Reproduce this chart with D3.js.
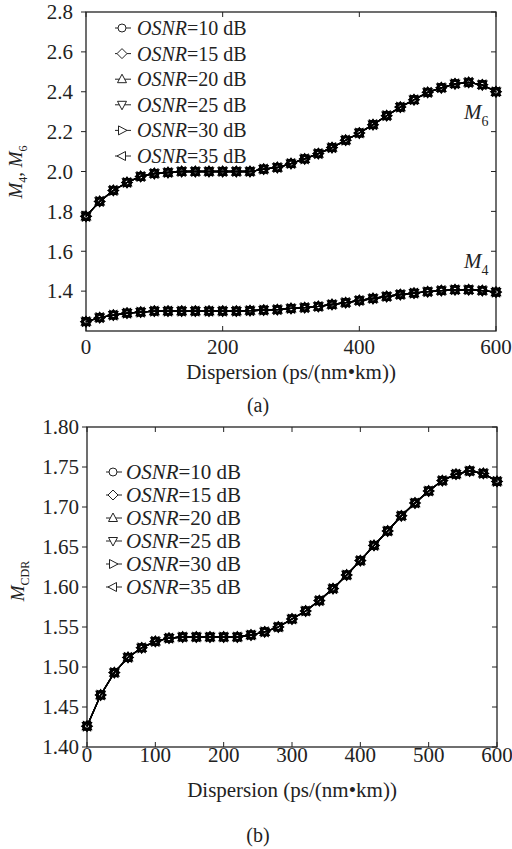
<!DOCTYPE html>
<html>
<head>
<meta charset="utf-8">
<script src="https://cdn.jsdelivr.net/npm/d3@7"></script>
<style>
  body { margin: 0; background: #fff; }
  svg { display: block; font-family: "Liberation Serif", "Times New Roman", serif; }
</style>
</head>
<body>
<div id="chart"></div>
<script>
// data
const osnrLevels = [10, 15, 20, 25, 30, 35];
const dispersion = [0, 20, 40, 60, 80, 100, 120, 140, 160, 180, 200, 220, 240, 260, 280, 300,
  320, 340, 360, 380, 400, 420, 440, 460, 480, 500, 520, 540, 560, 580, 600];
const m6Values = [1.775, 1.85, 1.905, 1.945, 1.975, 1.99, 1.995, 2.0, 2.0, 2.0, 2.0, 2.0, 2.0,
  2.012, 2.02, 2.04, 2.063, 2.09, 2.12, 2.157, 2.193, 2.235, 2.28, 2.323, 2.36, 2.397, 2.42,
  2.44, 2.447, 2.435, 2.40];
const m4Values = [1.247, 1.267, 1.28, 1.29, 1.295, 1.30, 1.30, 1.30, 1.30, 1.30, 1.30, 1.30,
  1.302, 1.305, 1.307, 1.313, 1.317, 1.323, 1.333, 1.342, 1.353, 1.363, 1.373, 1.383, 1.39,
  1.397, 1.403, 1.407, 1.407, 1.403, 1.395];
const mcdrValues = [1.426, 1.465, 1.493, 1.512, 1.524, 1.532, 1.536, 1.5375, 1.5375, 1.5375,
  1.5375, 1.5375, 1.540, 1.544, 1.55, 1.56, 1.570, 1.583, 1.598, 1.615, 1.633, 1.652, 1.670,
  1.689, 1.705, 1.720, 1.733, 1.741, 1.745, 1.742, 1.732];
const ticksA = { x: [0, 200, 400, 600], y: [1.4, 1.6, 1.8, 2.0, 2.2, 2.4, 2.6, 2.8] };
const ticksB = { x: [0, 100, 200, 300, 400, 500, 600], y: [1.40, 1.45, 1.50, 1.55, 1.60, 1.65, 1.70, 1.75, 1.80] };

// one marker per OSNR level
const markerPaths = [
  'M4,0A4,4 0 1,1 -4,0A4,4 0 1,1 4,0Z',
  'M0,-5L5,0L0,5L-5,0Z',
  'M0,-5L4.5,3.5L-4.5,3.5Z',
  'M0,5L4.5,-3.5L-4.5,-3.5Z',
  'M5,0L-3.5,4.5L-3.5,-4.5Z',
  'M-5,0L3.5,4.5L3.5,-4.5Z'
];

const svg = d3.select('#chart').append('svg')
  .attr('width', 512).attr('height', 849);

function drawPanel(cfg) {
  const x = d3.scaleLinear().domain([0, 600]).range([cfg.left, cfg.right]);
  const y = d3.scaleLinear().domain(cfg.yDomain).range([cfg.bottom, cfg.top]);
  const g = svg.append('g');

  // frame
  g.append('rect')
    .attr('x', cfg.left).attr('y', cfg.top)
    .attr('width', cfg.right - cfg.left).attr('height', cfg.bottom - cfg.top)
    .attr('fill', 'none').attr('stroke', '#222').attr('stroke-width', 1.3);

  // x ticks (inside, bottom and top)
  cfg.xTicks.forEach(t => {
    g.append('line').attr('x1', x(t)).attr('x2', x(t))
      .attr('y1', cfg.bottom).attr('y2', cfg.bottom - 5).attr('stroke', '#222');
    g.append('line').attr('x1', x(t)).attr('x2', x(t))
      .attr('y1', cfg.top).attr('y2', cfg.top + 5).attr('stroke', '#222');
    g.append('text').attr('x', x(t)).attr('y', cfg.xLabelY)
      .attr('text-anchor', 'middle').style('font-size', '21px').attr('fill', '#222')
      .text(t);
  });

  // y ticks (outside on the left, inside on the right)
  cfg.yTicks.forEach(t => {
    g.append('line').attr('x1', cfg.left).attr('x2', cfg.left - 5)
      .attr('y1', y(t)).attr('y2', y(t)).attr('stroke', '#222');
    g.append('line').attr('x1', cfg.right).attr('x2', cfg.right - 5)
      .attr('y1', y(t)).attr('y2', y(t)).attr('stroke', '#222');
    g.append('text').attr('x', cfg.yLabelX).attr('y', y(t)).attr('dy', '0.35em')
      .attr('text-anchor', 'end').style('font-size', '21px').attr('fill', '#222')
      .text(d3.format(cfg.yFormat)(t));
  });

  // x title
  g.append('text').attr('x', (cfg.left + cfg.right) / 2).attr('y', cfg.xTitleY)
    .attr('text-anchor', 'middle').style('font-size', '21px').attr('fill', '#222')
    .text('Dispersion (ps/(nm•km))');

  // panel caption
  g.append('text').attr('x', 258).attr('y', cfg.captionY)
    .attr('text-anchor', 'middle').style('font-size', '20px').attr('fill', '#222')
    .text(cfg.caption);

  const line = d3.line().x(d => x(d[0])).y(d => y(d[1]));

  cfg.curves.forEach(values => {
    const pts = dispersion.map((d, i) => [d, values[i]]);
    // every OSNR level gives the same curve, so they sit on top of each other
    osnrLevels.forEach((osnr, k) => {
      g.append('path').datum(pts)
        .attr('d', line).attr('fill', 'none')
        .attr('stroke', '#000').attr('stroke-width', 1.3);
      g.selectAll(null).data(pts).enter().append('path')
        .attr('transform', d => `translate(${x(d[0])},${y(d[1])})`)
        .attr('d', markerPaths[k])
        .attr('fill', 'none').attr('stroke', '#000').attr('stroke-width', 1.3);
    });
  });

  // legend
  osnrLevels.forEach((osnr, k) => {
    const ly = cfg.legend.y0 + k * cfg.legend.step;
    const lx = cfg.legend.x;
    g.append('line').attr('x1', lx - 7).attr('x2', lx + 9)
      .attr('y1', ly).attr('y2', ly).attr('stroke', '#222');
    g.append('path').attr('transform', `translate(${lx},${ly})`)
      .attr('d', markerPaths[k]).attr('fill', '#fff')
      .attr('stroke', '#222').attr('stroke-width', 1);
    const t = g.append('text').attr('x', cfg.legend.textX).attr('y', ly).attr('dy', '0.35em')
      .style('font-size', cfg.legend.size + 'px').attr('fill', '#222');
    t.append('tspan').style('font-style', 'italic').text('OSNR');
    t.append('tspan').text(`=${osnr} dB`);
  });

  return { x, y, g };
}

// (a) M4 and M6
const a = drawPanel({
  left: 86, right: 496, top: 12, bottom: 331,
  yDomain: [1.2, 2.8], xTicks: ticksA.x, yTicks: ticksA.y, yFormat: '.1f',
  yLabelX: 73, xLabelY: 354, xTitleY: 379, captionY: 412, caption: '(a)',
  curves: [m6Values, m4Values],
  legend: { x: 122, y0: 28, step: 25.6, textX: 137, size: 20 }
});

// curve labels M6 and M4
[['6', 119], ['4', 268]].forEach(([sub, by]) => {
  const t = a.g.append('text').attr('x', 464).attr('y', by)
    .style('font-size', '21px').attr('fill', '#222');
  t.append('tspan').style('font-style', 'italic').text('M');
  t.append('tspan').attr('dy', 7).style('font-size', '14px').text(sub);
});

// y title (a)
const ya = a.g.append('text')
  .attr('transform', 'translate(22,172) rotate(-90)')
  .attr('text-anchor', 'middle').style('font-size', '19px').attr('fill', '#222');
ya.append('tspan').style('font-style', 'italic').text('M');
ya.append('tspan').attr('dy', 5).style('font-size', '12px').text('4');
ya.append('tspan').attr('dy', -5).text(', ');
ya.append('tspan').style('font-style', 'italic').text('M');
ya.append('tspan').attr('dy', 5).style('font-size', '12px').text('6');

// (b) MCDR
const b = drawPanel({
  left: 87, right: 497, top: 427, bottom: 747,
  yDomain: [1.4, 1.8], xTicks: ticksB.x, yTicks: ticksB.y, yFormat: '.2f',
  yLabelX: 79, xLabelY: 762, xTitleY: 797, captionY: 842, caption: '(b)',
  curves: [mcdrValues],
  legend: { x: 113, y0: 472, step: 23, textX: 126, size: 21 }
});

const yb = b.g.append('text')
  .attr('transform', 'translate(24,581) rotate(-90)')
  .attr('text-anchor', 'middle').style('font-size', '19px').attr('fill', '#222');
yb.append('tspan').style('font-style', 'italic').text('M');
yb.append('tspan').attr('dy', 5).style('font-size', '12px').text('CDR');
</script>
</body>
</html>
